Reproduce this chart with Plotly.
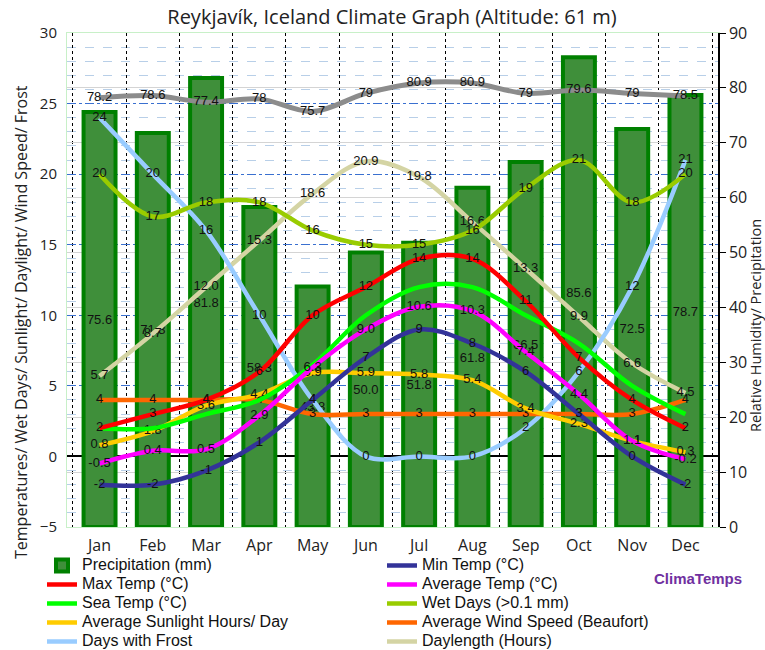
import plotly.graph_objects as go

months = ["Jan", "Feb", "Mar", "Apr", "May", "Jun", "Jul", "Aug", "Sep", "Oct", "Nov", "Dec"]
precipitation = [75.6, 71.8, 81.8, 58.3, 43.8, 50.0, 51.8, 61.8, 66.5, 85.6, 72.5, 78.7]
humidity = [78.2, 78.6, 77.4, 78, 75.7, 79, 80.9, 80.9, 79, 79.6, 79, 78.5]
max_temp = [2, 3, 4, 6, 10, 12, 14, 14, 11, 7, 4, 2]
min_temp = [-2, -2, -1, 1, 4, 7, 9, 8, 6, 3, 0, -2]
avg_temp = [-0.5, 0.4, 0.5, 2.9, 6.3, 9.0, 10.6, 10.3, 7.4, 4.4, 1.1, -0.2]
sea_temp = [2, 2, 3, 4, 6.5, 10, 12, 12, 10, 8, 5, 3]
wet_days = [20, 17, 18, 18, 16, 15, 15, 16, 19, 21, 18, 20]
sunlight = [0.8, 1.8, 3.6, 4.4, 5.9, 5.9, 5.8, 5.4, 3.4, 2.3, 1.1, 0.3]
wind = [4, 4, 4, 4, 3, 3, 3, 3, 3, 3, 3, 4]
frost = [24, 20, 16, 10, 4, 0, 0, 0, 2, 6, 12, 21]
daylength = [5.7, 8.7, 12.0, 15.3, 18.6, 20.9, 19.8, 16.6, 13.3, 9.9, 6.6, 4.5]

W, H = 765, 650
ML, MR, MT, MB = 67, 47, 33, 123
PW, PH = W - ML - MR, H - MT - MB

def px_x(px):
    return (px - ML) / PW

def px_y(py):
    return (H - MB - py) / PH

LABEL_FONT = dict(family="Liberation Sans, Arial", size=13, color="#111111")

def fmt1(v):
    return f"{v:.1f}"

def fmtg(v):
    return f"{v:g}"

def leg_name(s):
    return f"<span style='font-size:16px'>{s}</span>"

fig = go.Figure()

# Bars & humidity on the base (right) axis
fig.add_trace(go.Bar(
    x=months, y=precipitation, name=leg_name("Precipitation (mm)"),
    marker=dict(color="#3f8f3a", line=dict(color="#008000", width=4)),
    width=0.6, text=[fmt1(v) for v in precipitation], textposition="inside",
    insidetextanchor="middle", textangle=0, textfont=LABEL_FONT,
    yaxis="y", legend="legend", legendrank=1,
))
fig.add_trace(go.Scatter(
    x=months, y=humidity, name="Relative Humidity", mode="lines+text",
    line=dict(color="#8c8c8c", width=5, shape="spline"),
    text=[fmtg(v) for v in humidity], textposition="middle center", textfont=LABEL_FONT,
    yaxis="y", showlegend=False,
))

def line(y, name, color, width=4.5, text=True, fmt=fmtg, legend="legend", rank=1):
    fig.add_trace(go.Scatter(
        x=months, y=y, name=leg_name(name), mode="lines+text" if text else "lines",
        line=dict(color=color, width=width, shape="spline"),
        text=[fmt(v) for v in y] if text else None,
        textposition="middle center", textfont=LABEL_FONT,
        yaxis="y2", legend=legend, legendrank=rank,
    ))

line(daylength, "Daylength (Hours)", "#d4d4a4", fmt=fmt1, legend="legend2", rank=5)
line(frost, "Days with Frost", "#99ccff", legend="legend", rank=5)
line(wet_days, "Wet Days (>0.1 mm)", "#99cc00", legend="legend2", rank=3)
line(wind, "Average Wind Speed (Beaufort)", "#ff6600", legend="legend2", rank=4)
line(sunlight, "Average Sunlight Hours/ Day", "#ffcc00", fmt=fmt1, legend="legend", rank=4)
line(sea_temp, "Sea Temp (°C)", "#00ff00", text=False, legend="legend", rank=3)
line(max_temp, "Max Temp (°C)", "#ff0000", legend="legend", rank=2)
line(avg_temp, "Average Temp (°C)", "#ff00ff", fmt=fmt1, legend="legend2", rank=2)
line(min_temp, "Min Temp (°C)", "#333399", legend="legend2", rank=1)

TICK_FONT = dict(family="Open Sans, DejaVu Sans", size=15, color="#222222")
TICK_FONT_R = dict(family="Open Sans, DejaVu Sans", size=16, color="#222222")
LEG_FONT = dict(family="Liberation Sans, Arial", size=12, color="#111111")

fig.update_layout(
    width=W, height=H, autosize=False,
    margin=dict(l=ML, r=MR, t=MT, b=MB, autoexpand=False),
    paper_bgcolor="white", plot_bgcolor="white",
    title=dict(text="Reykjavík, Iceland Climate Graph (Altitude: 61 m)",
               x=392 / W, xref="container", xanchor="center",
               y=1 - 17 / H, yref="container", yanchor="middle",
               font=dict(family="Open Sans, DejaVu Sans", size=20, color="#222222")),
    xaxis=dict(type="category", tickson="boundaries", showgrid=True,
               gridcolor="#000000", griddash="dot", gridwidth=1,
               ticks="", tickfont=TICK_FONT_R, showline=True, linecolor="#c8f0c8",
               mirror=True, linewidth=1, ticklabelstandoff=4),
    yaxis=dict(side="right", range=[0, 90], dtick=10, showgrid=True,
               gridcolor="#d4d4d4", gridwidth=1, zeroline=False,
               ticks="outside", ticklen=6, tickcolor="#000000",
               showline=True, linecolor="#000000", linewidth=1.5,
               tickfont=TICK_FONT_R),
    yaxis2=dict(overlaying="y", side="left", range=[-5, 30], dtick=5,
                showgrid=True, gridcolor="#3a70d0", griddash="dashdot", gridwidth=1,
                minor=dict(dtick=1, showgrid=True, gridcolor="#b8cfe8", griddash="dash", gridwidth=1),
                zeroline=True, zerolinecolor="#000000", zerolinewidth=1.5,
                showline=True, linecolor="#c8f0c8", ticks="", tickfont=TICK_FONT,
                ticklabelstandoff=6),
    legend=dict(x=px_x(42), y=px_y(551), xanchor="left", yanchor="top",
                orientation="v", font=LEG_FONT, itemwidth=30,
                bgcolor="rgba(0,0,0,0)", tracegroupgap=0),
    legend2=dict(x=px_x(382), y=px_y(551), xanchor="left", yanchor="top",
                 orientation="v", font=LEG_FONT, itemwidth=30,
                 bgcolor="rgba(0,0,0,0)", tracegroupgap=0),
    annotations=[
        dict(text="Temperatures/ Wet Days/ Sunlight/ Daylight/ Wind Speed/ Frost",
             xref="paper", yref="paper", x=px_x(21), y=px_y(322), textangle=-90,
             showarrow=False, xanchor="center", yanchor="middle",
             font=dict(family="Open Sans, DejaVu Sans", size=16, color="#222222")),
        dict(text="Relative Humidity/ Precipitation",
             xref="paper", yref="paper", x=px_x(755), y=px_y(326), textangle=-90,
             showarrow=False, xanchor="center", yanchor="middle",
             font=dict(family="Open Sans, DejaVu Sans", size=14.5, color="#222222")),
        dict(text="<b>ClimaTemps</b>", xref="paper", yref="paper",
             x=px_x(698), y=px_y(578), showarrow=False, xanchor="center", yanchor="middle",
             font=dict(family="Liberation Sans, Arial", size=15, color="#7030a0")),
    ],
    showlegend=True,
)

fig.write_html(
    "out.html",
    config={"displayModeBar": False},
    post_script="document.body.style.margin='0';document.body.style.padding='0';",
)
